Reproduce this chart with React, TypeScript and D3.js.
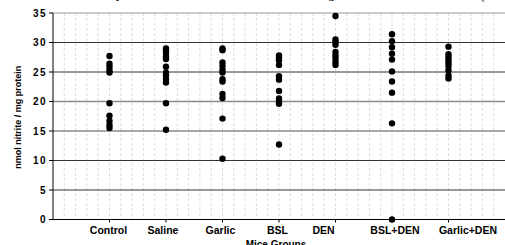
import * as d3 from 'd3';

// groups on the x axis
const groups = ['Control', 'Saline', 'Garlic', 'BSL', 'DEN', 'BSL+DEN', 'Garlic+DEN'];

// nmol nitrite / mg protein, one array per group
const control = [27.7, 26.4, 25.9, 25.3, 24.9, 19.7, 17.6, 16.7, 16.0, 15.5];
const saline = [29.0, 28.6, 28.2, 27.6, 27.2, 25.9, 24.9, 24.4, 23.8, 23.2, 19.7, 15.2];
const garlic = [29.0, 28.7, 26.6, 26.0, 25.4, 24.9, 23.8, 23.4, 21.3, 20.6, 17.1, 10.3];
const bsl = [27.8, 27.4, 27.0, 26.2, 24.3, 23.7, 21.8, 20.5, 20.0, 19.6, 12.7];
const den = [34.5, 30.5, 30.1, 29.6, 28.4, 27.8, 27.3, 26.7, 26.2];
const bslDen = [31.4, 30.2, 29.2, 28.1, 27.1, 25.1, 23.4, 21.5, 16.3, 0];
const garlicDen = [29.3, 28.0, 27.5, 27.0, 26.5, 26.0, 25.3, 24.4, 23.9];

const series = [control, saline, garlic, bsl, den, bslDen, garlicDen];
const yTicks = [0, 5, 10, 15, 20, 25, 30, 35];

const W = 505;
const H = 245;
const FONT = 'Arial, "Liberation Sans", sans-serif';
// the group labels were placed by hand in the original, a bit off their ticks
const LABEL_DX = [-1, -3, -2, -1.5, -12, 3, 19.5];

export default function App() {
  const x = d3.scaleLinear().domain([0, 8]).range([53, 505]);
  const y = d3.scaleLinear().domain([0, 35]).range([219.5, 13]);
  const minor = d3.range(1, 40).map(i => i * 0.2);

  const points = series.flatMap((vals, gi) => vals.map(v => ({ g: gi + 1, v })));

  const lineStyle = (t: number) => {
    if (t === 35) return { stroke: '#9a9a9a', width: 1 };
    if (t === 15 || t === 20) return { stroke: '#8a8a8a', width: 1.6 };
    return { stroke: '#333', width: 1 };
  };

  return (
    <svg width={W} height={H} style={{ position: 'absolute', left: 0, top: 0 }} fontFamily={FONT}>
      <rect width={W} height={H} fill="#fff" />
      {/* cut-off page text above the chart */}
      <g fontFamily='"Liberation Serif", "Times New Roman", serif' fontSize={14} fill="#000">
        <text x={116} y={-2}>y</text>
        <text x={328} y={-2}>g</text>
        <text x={480} y={-1}>(</text>
      </g>
      {/* minor vertical grid */}
      {minor.map(m => (
        <line key={m} x1={x(m)} x2={x(m)} y1={y(35)} y2={y(0)}
          stroke="#d4d4d4" strokeWidth={0.8} strokeDasharray="3,2" />
      ))}
      {/* horizontal grid */}
      {yTicks.filter(t => t > 0).map(t => {
        const s = lineStyle(t);
        return <line key={t} x1={x(0)} x2={W} y1={y(t)} y2={y(t)} stroke={s.stroke} strokeWidth={s.width} />;
      })}
      {/* axes */}
      <line x1={x(0)} x2={x(0)} y1={y(35)} y2={y(0)} stroke="#000" strokeWidth={1} />
      <line x1={x(0)} x2={W} y1={y(0)} y2={y(0)} stroke="#000" strokeWidth={1} />
      {yTicks.map(t => (
        <g key={t}>
          <line x1={x(0) - 4} x2={x(0)} y1={y(t)} y2={y(t)} stroke="#000" />
          <text x={x(0) - 6} y={y(t) + 3.5} textAnchor="end" fontSize={10} fontWeight="bold" letterSpacing={1.5}>{t}</text>
        </g>
      ))}
      {groups.map((g, i) => (
        <g key={g}>
          <line x1={x(i + 1)} x2={x(i + 1)} y1={y(0)} y2={y(0) + 3} stroke="#000" />
          <text x={x(i + 1) + LABEL_DX[i]} y={234} textAnchor="middle" fontSize={10.5} fontWeight="bold">{g}</text>
        </g>
      ))}
      {/* axis titles */}
      <text x={276} y={248} textAnchor="middle" fontSize={10} fontWeight="bold">Mice Groups</text>
      <text transform={`translate(21,${(y(0) + y(35)) / 2 + 1}) rotate(-90)`} textAnchor="middle" fontSize={9} fontWeight="bold">
        nmol nitrite / mg protein
      </text>
      {/* dots */}
      {points.map((p, i) => (
        <circle key={i} cx={x(p.g)} cy={y(p.v)} r={3.2} fill="#000" />
      ))}
    </svg>
  );
}
